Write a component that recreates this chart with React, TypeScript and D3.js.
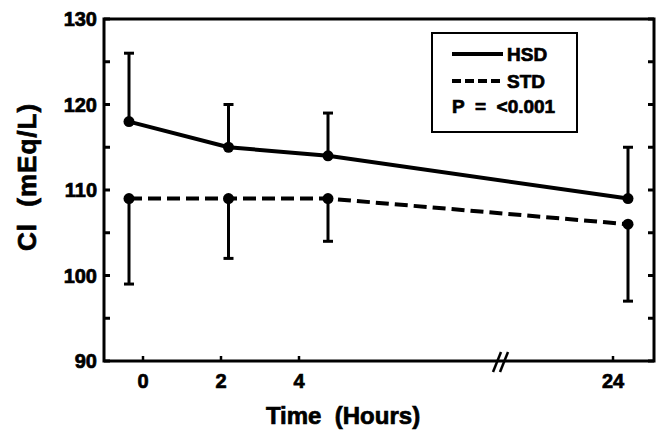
import React from 'react';
import * as d3 from 'd3';

// time points (hours) and the two groups' means / SD
const times = [0, 2, 4, 24];
const hsdMean = [118, 115, 114, 109];
const hsdSD = [8, 5, 5, 6];
const stdMean = [109, 109, 109, 106];
const stdSD = [10, 7, 5, 9];
const yTicks = [90, 100, 110, 120, 130];
const yMinorTicks = [95, 105, 115, 125];
const xTickLabels = ['0', '2', '4', '24'];
const legendLabels = ['HSD', 'STD', 'P  =  <0.001'];

const W = 664;
const H = 431;
const FONT = '"Liberation Sans", Arial, Helvetica, sans-serif';

export default function App() {
  const left = 104;
  const right = 654;
  const top = 19;
  const bottom = 361;

  const y = d3.scaleLinear().domain([90, 130]).range([bottom, top]);
  // broken time axis: points and ticks sit on separate piecewise scales (as in the original)
  const xData = d3.scaleLinear().domain([0, 4, 24]).range([129, 328, 628]);
  const xTick = d3.scaleLinear().domain([0, 4, 24]).range([143, 299, 613]);
  const breakX = 502;

  const line = d3.line<number>()
    .x((d, i) => xData(times[i]))
    .y((d) => y(d));

  const allTicks = [...yTicks, ...yMinorTicks];
  // heavier glyphs, closer to the original's black sans
  const heavy = { stroke: '#000', strokeWidth: 0.7, whiteSpace: 'pre' as const };

  return (
    <svg width={W} height={H} style={{ position: 'absolute', left: 0, top: 0, background: '#fff' }}
      fontFamily={FONT} fontWeight="bold">
      <rect x={0} y={0} width={W} height={H} fill="#fff" />

      {/* frame */}
      <rect x={left} y={top} width={right - left} height={bottom - top} fill="none" stroke="#000" strokeWidth={3} />

      {/* y ticks, inward on both sides */}
      {allTicks.map((t) => (
        <g key={`yt${t}`}>
          <line x1={left} x2={left + 6} y1={y(t)} y2={y(t)} stroke="#000" strokeWidth={3} />
          <line x1={right - 6} x2={right} y1={y(t)} y2={y(t)} stroke="#000" strokeWidth={3} />
        </g>
      ))}
      {yTicks.map((t) => (
        <text key={`yl${t}`} x={97} y={y(t)} dy="0.36em" textAnchor="end" fontSize={20} style={heavy}>{t}</text>
      ))}

      {/* x ticks */}
      {times.map((t, i) => (
        <g key={`xt${t}`}>
          <line x1={xTick(t)} x2={xTick(t)} y1={bottom} y2={bottom - 5} stroke="#000" strokeWidth={2.5} />
          <text x={xTick(t)} y={388} textAnchor="middle" fontSize={20} style={heavy}>{xTickLabels[i]}</text>
        </g>
      ))}

      {/* axis break */}
      <line x1={breakX - 9} y1={bottom + 11} x2={breakX - 1} y2={bottom - 9} stroke="#000" strokeWidth={2.5} />
      <line x1={breakX - 2} y1={bottom + 11} x2={breakX + 6} y2={bottom - 9} stroke="#000" strokeWidth={2.5} />

      {/* axis titles */}
      <text x={343} y={424} textAnchor="middle" fontSize={24} style={heavy}>Time  (Hours)</text>
      <text transform={`translate(36,${(92 + 262) / 2}) rotate(-90)`} textAnchor="middle" fontSize={26}
        letterSpacing={1} style={heavy}>Cl  (mEq/L)</text>

      {/* error bars: HSD up, STD down */}
      {times.map((t, i) => {
        const x = xData(t);
        const hy = y(hsdMean[i] + hsdSD[i]);
        const sy = y(stdMean[i] - stdSD[i]);
        return (
          <g key={`eb${t}`} stroke="#000" strokeWidth={3}>
            <line x1={x} x2={x} y1={y(hsdMean[i])} y2={hy} />
            <line x1={x - 5} x2={x + 5} y1={hy} y2={hy} />
            <line x1={x} x2={x} y1={y(stdMean[i])} y2={sy} />
            <line x1={x - 5} x2={x + 5} y1={sy} y2={sy} />
          </g>
        );
      })}

      {/* series lines */}
      <path d={line(hsdMean) || ''} fill="none" stroke="#000" strokeWidth={4} />
      <path d={line(stdMean) || ''} fill="none" stroke="#000" strokeWidth={4} strokeDasharray="13,6" />

      {/* points */}
      {times.map((t, i) => (
        <g key={`pt${t}`}>
          <circle cx={xData(t)} cy={y(hsdMean[i])} r={5.5} fill="#000" />
          <circle cx={xData(t)} cy={y(stdMean[i])} r={5.5} fill="#000" />
        </g>
      ))}

      {/* legend */}
      <g>
        <rect x={432} y={33} width={145} height={99} fill="#fff" stroke="#000" strokeWidth={2} />
        <line x1={452} x2={503} y1={54} y2={54} stroke="#000" strokeWidth={4} />
        <text x={507} y={54} dy="0.36em" fontSize={19} style={heavy}>{legendLabels[0]}</text>
        <line x1={452} x2={503} y1={81} y2={81} stroke="#000" strokeWidth={4} strokeDasharray="9,4" />
        <text x={507} y={81} dy="0.36em" fontSize={19} style={heavy}>{legendLabels[1]}</text>
        <text x={452} y={106} dy="0.36em" fontSize={19} style={heavy}>{legendLabels[2]}</text>
      </g>
    </svg>
  );
}
